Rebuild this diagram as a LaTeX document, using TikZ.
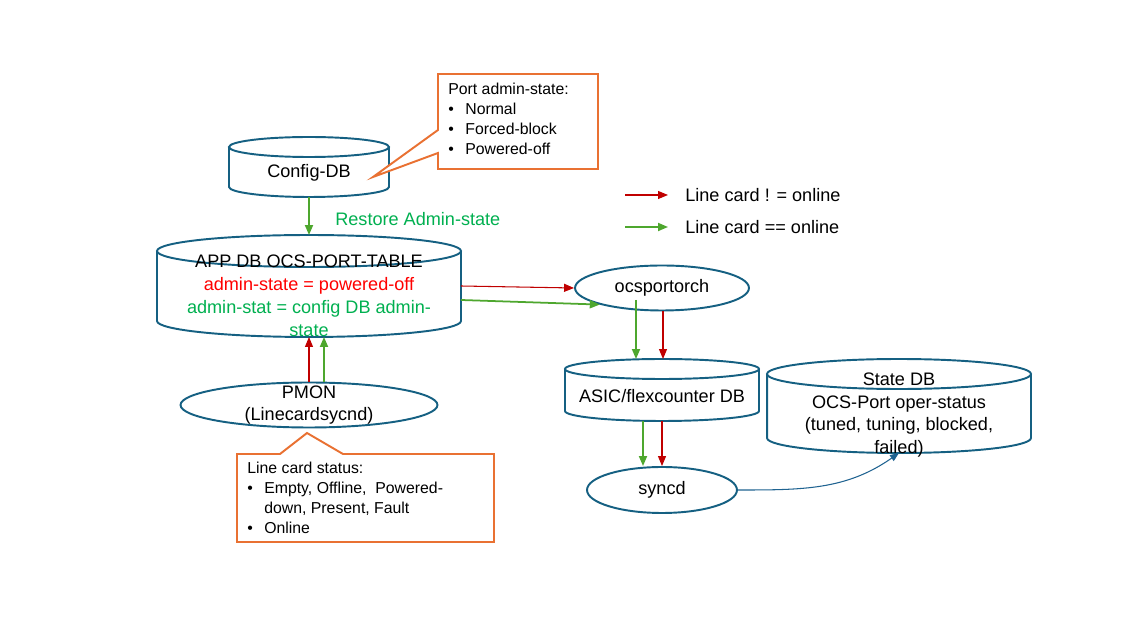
\documentclass[tikz,border=0pt]{standalone}
\usepackage{fontspec}
\setmainfont{Liberation Sans}
\usetikzlibrary{shapes.geometric,arrows.meta,positioning,calc}
\definecolor{dbblue}{RGB}{21,96,130}
\definecolor{lcred}{RGB}{192,0,0}
\definecolor{lcgreen}{RGB}{78,167,46}
\definecolor{txtgreen}{RGB}{0,176,80}
\definecolor{txtred}{RGB}{255,0,0}
\definecolor{noteorange}{RGB}{233,113,50}
\definecolor{linkblue}{RGB}{31,99,145}

\newcommand{\bul}{\makebox[0.34cm][l]{\textbullet}}
% database cylinder: name, centre, width, height, cap radius, text
\newcommand{\dbcyl}[6]{%
  \node[dbbox, minimum width=#3, minimum height=#4] (#1) at (#2) {};
  \draw[dbline] ($(#1.north)+(0,-#5)$) ellipse [x radius=#3/2, y radius=#5];
  \draw[dbline] ($(#1.north west)+(0,-#5)$) -- ($(#1.south west)+(0,#5)$)
    arc [start angle=180, end angle=360, x radius=#3/2, y radius=#5]
    -- ($(#1.north east)+(0,-#5)$);
  \node[dbtext] (#1txt) at ($(#1.center)+(0,{-0.6*#5})$) {#6};
}

\begin{document}
\begin{tikzpicture}[x=0.02cm, y=-0.02cm,
    dbbox/.style={rectangle, inner sep=0pt, outer sep=0pt},
    dbline/.style={draw=dbblue, line width=1.1pt},
    dbtext/.style={align=center, font=\fontsize{10.3pt}{13pt}\selectfont, inner sep=0pt},
    proc/.style={ellipse, draw=dbblue, line width=1.1pt, inner sep=0pt,
                 font=\fontsize{10.3pt}{13pt}\selectfont},
    note/.style={draw=noteorange, line width=1.1pt, fill=white},
    notetext/.style={align=left, font=\fontsize{9pt}{11.4pt}\selectfont,
                     inner sep=0pt, anchor=north west},
    redarrow/.style={-{Triangle[length=2mm,width=1.6mm]}, lcred, line width=0.6pt},
    greenarrow/.style={-{Triangle[length=2mm,width=1.6mm]}, lcgreen, line width=1pt},
    linkarrow/.style={-{Triangle[length=1.8mm,width=1.4mm]}, linkblue, line width=0.6pt}]

\fill[white] (0,0) rectangle (1143,617);
\useasboundingbox (0,0) rectangle (1143,617);

% databases
\dbcyl{cfg}{309,167}{3.2cm}{1.2cm}{0.2cm}{Config-DB}
\dbcyl{app}{309,286}{6.08cm}{2.04cm}{0.32cm}{APP DB OCS-PORT-TABLE\\
  \textcolor{txtred}{admin-state = powered-off}\\
  \textcolor{txtgreen}{admin-stat = config DB admin-}\\
  \textcolor{txtgreen}{state}}
\dbcyl{asic}{662,390}{3.88cm}{1.24cm}{0.2cm}{ASIC/flexcounter DB}
\dbcyl{state}{899,406}{5.28cm}{1.88cm}{0.3cm}{State DB\\OCS-Port oper-status\\
  (tuned, tuning, blocked,\\failed)}

% processes
\node[proc, minimum width=3.48cm, minimum height=0.9cm] (orch) at (662,288) {ocsportorch};
\node[proc, minimum width=3cm, minimum height=0.92cm] (sync) at (662,490) {syncd};
\node[proc, minimum width=5.14cm, minimum height=0.9cm] (pmon) at (309,405) {};
\node[dbtext] (pmontxt) at (pmon.center) {PMON\\(Linecardsycnd)};

% callouts
\draw[note] (438,74) -- (598,74) -- (598,169) -- (438,169) -- (438,153)
  -- (373,177) -- (438,130) -- cycle;
\node[notetext] (cfgnote) at (448,83) {Port admin-state:\\\bul Normal\\
  \bul Forced-block\\\bul Powered-off};
\draw[note] (237,454) -- (280,454) -- (307,433) -- (343,454) -- (494,454)
  -- (494,542) -- (237,542) -- cycle;
\node[notetext] (pmonnote) at (247,462) {Line card status:\\
  \bul Empty, Offline,\ \ Powered-\\\hspace*{0.34cm}down, Present, Fault\\
  \bul Online};

% legend
\coordinate (lgr1) at (625,195);
\coordinate (lgr2) at (668,195);
\node[dbtext, anchor=west] (lgrtxt) at (685,195) {Line card ! = online};
\coordinate (lgg1) at (625,227);
\coordinate (lgg2) at (668,227);
\node[dbtext, anchor=west] (lggtxt) at (685,227) {Line card == online};
\draw[redarrow] (lgr1) -- (lgr2);
\draw[greenarrow] (lgg1) -- (lgg2);

\node[dbtext, anchor=west, text=txtgreen] (restore) at (335,219) {Restore Admin-state};

% connectors
\draw[greenarrow] (cfg.south) -- (app.north);
\draw[redarrow] (app.east) -- (orch.west);
\draw[greenarrow] ([yshift=-0.28cm]app.east) -- (orch.south west);
\draw[greenarrow] ([xshift=-0.52cm,yshift=-0.24cm]orch.center) -- ([xshift=-0.52cm]asic.north);
\draw[redarrow] ([xshift=0.02cm]orch.south) -- ([xshift=0.02cm]asic.north);
\draw[greenarrow] ([xshift=-0.38cm]asic.south) -- ([xshift=-0.38cm]sync.north);
\draw[redarrow] (asic.south) -- (sync.north);
\draw[redarrow] (pmon.north) -- (app.south);
\draw[greenarrow] ([xshift=0.3cm]pmon.north) -- ([xshift=0.3cm]app.south);
\draw[linkarrow] (sync.east) to[out=0, in=215] (state.south);
\end{tikzpicture}
\end{document}
